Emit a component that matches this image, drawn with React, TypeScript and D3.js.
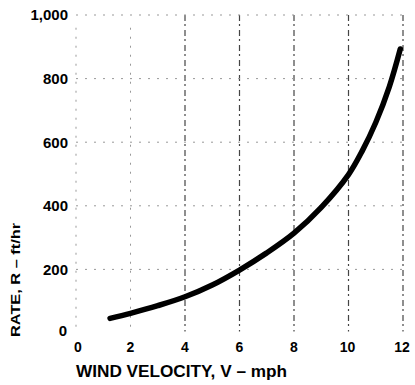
import React from "react";
import * as d3 from "d3";

const windVelocity = [1.25, 2, 3, 4, 5, 6, 7, 8, 9, 10, 10.5, 11, 11.5, 11.9];
const spreadRate = [46, 62, 86, 114, 151, 198, 252, 314, 395, 498, 572, 662, 775, 893];
const xTicks = [0, 2, 4, 6, 8, 10, 12];
const yTicks = [200, 400, 600, 800];
const yTickLabels = ["200", "400", "600", "800"];

export default function App() {
  const W = 415, H = 385;
  const x = d3.scaleLinear().domain([0, 12]).range([76, 403]);
  const y = d3.scaleLinear().domain([0, 1000]).range([333, 15]);
  const line = d3
    .line<number>()
    .x((_, i) => x(windVelocity[i]))
    .y((d) => y(d))
    .curve(d3.curveCatmullRom.alpha(0.5));
  const font = "'Liberation Sans', Arial, sans-serif";
  return (
    <svg width={W} height={H} style={{ position: "absolute", left: 0, top: 0, background: "#fff" }} fontFamily={font} fontWeight="bold">
      {/* vertical grid */}
      {xTicks.map((t) => (
        <line
          key={"vx" + t}
          x1={x(t)}
          x2={x(t)}
          y1={t < 4 ? y(960) : y(1000)}
          y2={y(5)}
          stroke={t < 4 ? "#999" : "#444"}
          strokeWidth={t < 4 ? 1 : 1.2}
          strokeDasharray={t < 4 ? "2,7" : "6,3,2,4"}
        />
      ))}
      {/* horizontal grid */}
      {[...yTicks, 1000].map((t) => (
        <line
          key={"hy" + t}
          x1={x(0)}
          x2={x(12)}
          y1={y(t)}
          y2={y(t)}
          stroke="#999"
          strokeWidth={1}
          strokeDasharray="2,7"
        />
      ))}
      {/* curve */}
      <path d={line(spreadRate) || ""} fill="none" stroke="#000" strokeWidth={5.5} strokeLinecap="round" />
      {/* y tick labels */}
      <text x={68} y={y(1000)} dy="0.36em" textAnchor="end" fontSize={15}>1,000</text>
      {yTicks.map((t, i) => (
        <text key={"yt" + t} x={68} y={y(t)} dy="0.36em" textAnchor="end" fontSize={15}>
          {yTickLabels[i]}
        </text>
      ))}
      <text x={67} y={y(0)} dy="0.2em" textAnchor="end" fontSize={15}>0</text>
      {/* x tick labels */}
      {xTicks.map((t) => (
        <text key={"xt" + t} x={x(t) + (t === 0 ? 2 : t >= 10 ? -1 : 0)} y={347} dy="0.36em" textAnchor="middle" fontSize={14}>
          {String(t)}
        </text>
      ))}
      {/* axis titles */}
      <text x={76} y={371} dy="0.36em" fontSize={16} textLength={211} lengthAdjust="spacingAndGlyphs">
        WIND VELOCITY, V – mph
      </text>
      <text
        transform={`translate(15,280) rotate(-90)`}
        textAnchor="middle"
        dy="0.36em"
        fontSize={13}
        textLength={114}
        lengthAdjust="spacingAndGlyphs"
      >
        RATE, R – ft/hr
      </text>
    </svg>
  );
}
